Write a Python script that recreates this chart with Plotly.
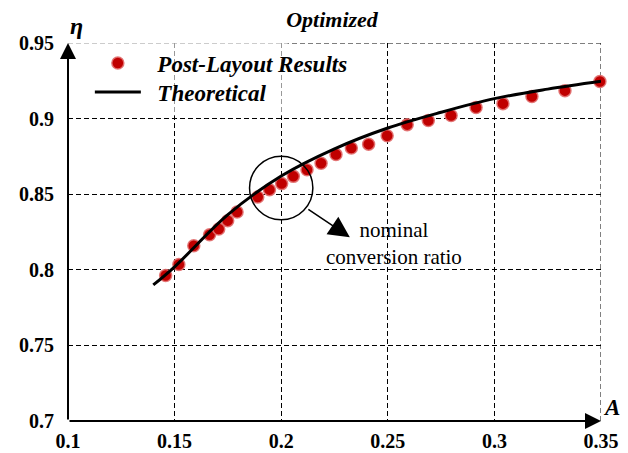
import plotly.graph_objects as go

# Post-layout results (A, eta)
post_A = [0.1458, 0.1520, 0.1590, 0.1664, 0.1707, 0.1749, 0.1793, 0.1890, 0.1945, 0.2002,
          0.2057, 0.2121, 0.2187, 0.2257, 0.2329, 0.2410, 0.2497, 0.2591, 0.2690, 0.2797,
          0.2914, 0.3040, 0.3176, 0.3331, 0.3495]
post_eta = [0.7962, 0.8035, 0.8159, 0.8232, 0.8270, 0.8325, 0.8382, 0.8481, 0.8530, 0.8570,
            0.8618, 0.8662, 0.8705, 0.8762, 0.8805, 0.8831, 0.8887, 0.8960, 0.8987, 0.9020,
            0.9073, 0.9099, 0.9146, 0.9185, 0.9245]

# Theoretical curve (sampled)
theo_A = [0.140, 0.150, 0.175, 0.200, 0.225, 0.250, 0.275, 0.300, 0.325, 0.350]
theo_eta = [0.790, 0.802, 0.8365, 0.862, 0.880, 0.8938, 0.9042, 0.9132, 0.9195, 0.9247]

x_ticks = [0.1, 0.15, 0.2, 0.25, 0.3, 0.35]
x_labels = ["0.1", "0.15", "0.2", "0.25", "0.3", "0.35"]
y_ticks = [0.7, 0.75, 0.8, 0.85, 0.9, 0.95]
y_labels = ["0.7", "0.75", "0.8", "0.85", "0.9", "0.95"]

SERIF = "Liberation Serif"
NB = "\u00a0"

fig = go.Figure()
fig.add_trace(go.Scatter(
    x=post_A, y=post_eta, mode="markers", name=NB * 2 + "Post-Layout Results",
    marker=dict(color="#C00000", size=12, line=dict(color="rgba(225,110,110,0.9)", width=1.5)),
    cliponaxis=False, legend="legend"))
fig.add_trace(go.Scatter(
    x=theo_A, y=theo_eta, mode="lines", name=NB * 2 + "Theoretical",
    line=dict(color="black", width=3, shape="spline"), cliponaxis=False, legend="legend2"))

grid = dict(showgrid=True, gridcolor="black", griddash="5px,3px", gridwidth=1,
            showline=False, zeroline=False, ticks="", automargin=False)

fig.update_xaxes(range=[x_ticks[0], x_ticks[-1]], tickvals=x_ticks, ticktext=x_labels,
                 tickfont=dict(family=SERIF, size=20, weight="bold", color="black"),
                 ticklabelstandoff=6, **grid)
fig.update_yaxes(range=[y_ticks[0], y_ticks[-1]], tickvals=y_ticks, ticktext=y_labels,
                 tickfont=dict(family=SERIF, size=20, weight="bold", color="black"),
                 ticklabelstandoff=13, **grid)

# dashed border grid lines at the far edges
fig.add_shape(type="line", xref="x", yref="y", x0=x_ticks[0], x1=x_ticks[-1],
              y0=y_ticks[-1], y1=y_ticks[-1], line=dict(color="black", width=1, dash="5px,3px"),
              layer="below")
fig.add_shape(type="line", xref="x", yref="y", x0=x_ticks[-1], x1=x_ticks[-1],
              y0=y_ticks[0], y1=y_ticks[-1], line=dict(color="black", width=1, dash="5px,3px"),
              layer="below")

# axis arrows
fig.add_annotation(x=x_ticks[-1], y=y_ticks[0], ax=x_ticks[0], ay=y_ticks[0],
                   xref="x", yref="y", axref="x", ayref="y", text="", showarrow=True,
                   arrowhead=2, arrowwidth=2, arrowsize=1.6, arrowcolor="black", standoff=0)
fig.add_annotation(x=x_ticks[0], y=y_ticks[-1], ax=x_ticks[0], ay=y_ticks[0],
                   xref="x", yref="y", axref="x", ayref="y", text="", showarrow=True,
                   arrowhead=2, arrowwidth=2, arrowsize=1.6, arrowcolor="black", standoff=0)

# axis labels
fig.add_annotation(x=x_ticks[0], y=1, xref="x", yref="paper", text="<b><i>η</i></b>",
                   showarrow=False, xanchor="center", yanchor="bottom", xshift=8, yshift=2,
                   font=dict(family=SERIF, size=24, color="black"))
fig.add_annotation(x=1, y=y_ticks[0], xref="paper", yref="y", text="<b><i>A</i></b>",
                   showarrow=False, xanchor="left", yanchor="bottom", xshift=0, yshift=-1,
                   font=dict(family=SERIF, size=23, color="black"))

# highlight circle and note
fig.add_shape(type="circle", xref="x", yref="y", x0=0.18515, x1=0.21485, y0=0.8331, y1=0.8751,
              line=dict(color="black", width=1.5))
fig.add_annotation(x=0.2322, y=0.8215, ax=-43, ay=-29, xref="x", yref="y", text="",
                   showarrow=True, arrowhead=2, arrowwidth=1.5, arrowsize=2.8,
                   arrowcolor="black", standoff=0)
fig.add_annotation(x=0.253, y=0.8175, xref="x", yref="y", text="nominal<br>conversion ratio",
                   showarrow=False, align="center",
                   font=dict(family=SERIF, size=21, color="black"))

# translucent legend backdrop
fig.add_shape(type="rect", xref="x", yref="y", x0=0.1, x1=0.203, y0=0.902, y1=0.95,
              fillcolor="rgba(255,255,255,0.6)", line=dict(width=0), layer="above")

legend_font = dict(family=SERIF, size=23, color="black", weight="bold", style="italic")
fig.update_layout(
    width=628, height=453,
    margin=dict(l=68, r=27, t=43, b=32),
    paper_bgcolor="white", plot_bgcolor="white",
    title=dict(text="<b><i>Optimized</i></b>", x=332 / 628, xanchor="center",
               y=1 - 19 / 453, yanchor="middle", yref="container",
               font=dict(family=SERIF, size=22, color="black")),
    legend=dict(x=0.041, y=0.947, xanchor="left", yanchor="middle", bgcolor="rgba(0,0,0,0)",
                font=legend_font, itemwidth=46),
    legend2=dict(x=0.041, y=0.870, xanchor="left", yanchor="middle", bgcolor="rgba(0,0,0,0)",
                 font=legend_font, itemwidth=46),
    showlegend=True,
)

fig.write_html("out.html")
